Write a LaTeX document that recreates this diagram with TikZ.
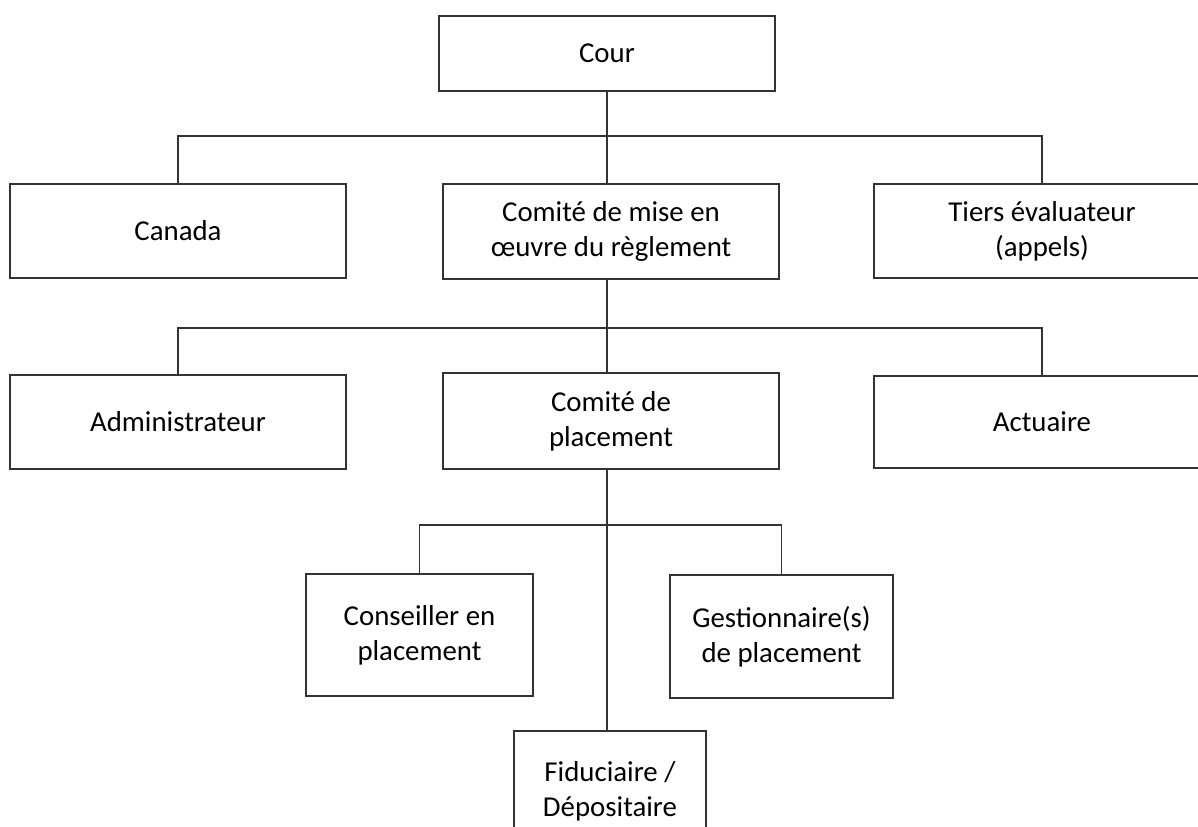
\documentclass[tikz,border=0pt]{standalone}
\usepackage{fontspec}
\setmainfont{Carlito}
\begin{document}
\begin{tikzpicture}[x=0.025cm,y=-0.025cm]
        \tikzset{box/.style={draw=black!80,line width=1.3pt,align=center,inner sep=0pt,
                font=\fontsize{20.5}{25}\selectfont},
            link/.style={draw=black!80,line width=1.3pt}}
        \clip (0,0) rectangle (1198,827);
        \fill[white] (0,0) rectangle (1198,827);
        \node[box,minimum width=8.4cm,minimum height=1.875cm] (cour) at (607,53.5) {Cour};
        \node[box,minimum width=8.4cm,minimum height=2.35cm] (canada) at (178,231) {Canada};
        \node[box,minimum width=8.4cm,minimum height=2.375cm] (comite) at (611,231.5)
            {Comité de mise en\\œuvre du règlement};
        \node[box,minimum width=8.4cm,minimum height=2.35cm] (tiers) at (1042,231)
            {Tiers évaluateur\\(appels)};
        \node[box,minimum width=8.4cm,minimum height=2.35cm] (admin) at (178,422) {Administrateur};
        \node[box,minimum width=8.4cm,minimum height=2.4cm] (placement) at (611,421)
            {Comité de\\placement};
        \node[box,minimum width=8.4cm,minimum height=2.3cm] (actuaire) at (1042,422) {Actuaire};
        \node[box,minimum width=5.675cm,minimum height=3.05cm] (conseiller) at (419.5,635)
            {Conseiller en\\placement};
        \node[box,minimum width=5.575cm,minimum height=3.075cm] (gestion) at (781.5,636.5)
            {Gestionnaire(s)\\de placement};
        \node[box,minimum width=4.8cm,minimum height=3cm] (fiduciaire) at (610,791)
            {Fiduciaire /\\Dépositaire};
        \coordinate (bar1) at (607,136);
        \coordinate (bar2) at (607,328);
        \coordinate (bar3) at (607,525);
        \draw[link] (cour.south -| bar1) -- (comite.north -| bar1);
        \draw[link] (canada.north) |- (bar1) -| (tiers.north);
        \draw[link] (comite.south -| bar2) -- (placement.north -| bar2);
        \draw[link] (admin.north) |- (bar2) -| (actuaire.north);
        \draw[link] (placement.south -| bar3) -- (fiduciaire.north -| bar3);
        \draw[link] (conseiller.north) |- (bar3) -| (gestion.north);
    \end{tikzpicture}
\end{document}
